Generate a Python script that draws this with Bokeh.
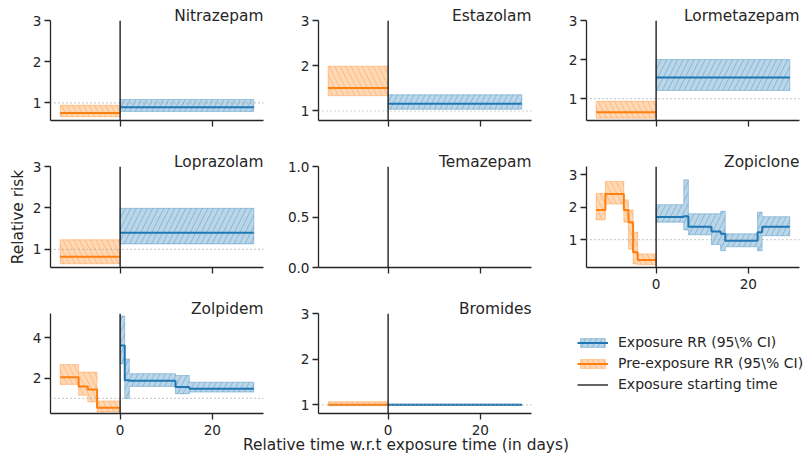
from bokeh.plotting import figure
from bokeh.layouts import column, row
from bokeh.models import (Span, FixedTicker, Legend, LegendItem, PrintfTickFormatter,
                          Range1d, Title)
from bokeh.core.properties import value
from bokeh.embed import file_html
from bokeh.resources import INLINE

# ---------------- data ----------------
drug_names = ["Nitrazepam", "Estazolam", "Lormetazepam",
              "Loprazolam", "Temazepam", "Zopiclone",
              "Zolpidem", "Bromides"]

# Nitrazepam
nitra_pre_edges = [-13, 0]
nitra_pre_rr = [0.75]
nitra_pre_lo = [0.66]
nitra_pre_hi = [0.94]
nitra_exp_edges = [0, 29]
nitra_exp_rr = [0.89]
nitra_exp_lo = [0.79]
nitra_exp_hi = [1.08]

# Estazolam
esta_pre_edges = [-13, 0]
esta_pre_rr = [1.51]
esta_pre_lo = [1.34]
esta_pre_hi = [1.99]
esta_exp_edges = [0, 29]
esta_exp_rr = [1.16]
esta_exp_lo = [1.04]
esta_exp_hi = [1.36]

# Lormetazepam
lorm_pre_edges = [-13, 0]
lorm_pre_rr = [0.65]
lorm_pre_lo = [0.50]
lorm_pre_hi = [0.93]
lorm_exp_edges = [0, 29]
lorm_exp_rr = [1.54]
lorm_exp_lo = [1.21]
lorm_exp_hi = [2.00]

# Loprazolam
lopr_pre_edges = [-13, 0]
lopr_pre_rr = [0.82]
lopr_pre_lo = [0.65]
lopr_pre_hi = [1.23]
lopr_exp_edges = [0, 29]
lopr_exp_rr = [1.40]
lopr_exp_lo = [1.13]
lopr_exp_hi = [1.99]

# Zopiclone
zopi_pre_edges = [-13, -11, -7, -6, -5, -4, 0]
zopi_pre_rr = [1.92, 2.41, 1.92, 1.54, 0.61, 0.37]
zopi_pre_lo = [1.61, 2.10, 1.54, 0.71, 0.25, 0.23]
zopi_pre_hi = [2.43, 2.80, 2.23, 1.92, 1.23, 0.56]
zopi_exp_edges = [0, 6, 7, 12, 14, 15, 22, 23, 29]
zopi_exp_rr = [1.70, 1.72, 1.40, 1.25, 1.18, 0.97, 1.23, 1.40]
zopi_exp_lo = [1.54, 1.30, 1.15, 0.85, 0.66, 0.78, 0.66, 1.12]
zopi_exp_hi = [2.08, 2.85, 1.80, 1.80, 1.88, 1.18, 1.85, 1.71]

# Zolpidem
zolp_pre_edges = [-13, -9, -7, -5, 0]
zolp_pre_rr = [2.05, 1.59, 1.44, 0.54]
zolp_pre_lo = [1.69, 1.15, 0.82, 0.33]
zolp_pre_hi = [2.67, 2.30, 2.30, 0.87]
zolp_exp_edges = [0, 1, 2, 12, 15, 29]
zolp_exp_rr = [3.61, 1.89, 1.87, 1.56, 1.48]
zolp_exp_lo = [2.71, 0.99, 1.59, 1.23, 1.31]
zolp_exp_hi = [5.08, 2.95, 2.22, 2.13, 1.80]

# Bromides
brom_pre_edges = [-13, 0]
brom_pre_rr = [1.00]
brom_pre_lo = [0.98]
brom_pre_hi = [1.07]
brom_exp_edges = [0, 29]
brom_exp_rr = [1.00]
brom_exp_lo = [0.985]
brom_exp_hi = [1.015]

x_ticks = [0, 20]
y_ticks_default = [1, 2, 3]
y_ticks_zolp = [2, 4]
y_ticks_tema = [0.0, 0.5, 1.0]

legend_labels = ["Exposure RR (95\\% CI)", "Pre-exposure RR (95\\% CI)", "Exposure starting time"]
y_axis_title = "Relative risk"
x_axis_title = "Relative time w.r.t exposure time (in days)"

# ---------------- style ----------------
BLUE = "#1f77b4"
ORANGE = "#ff7f0e"
FONT = "DejaVu Sans"
TXT = "#262626"
AX = "#262626"
TICK_FS = "13.6px"
TITLE_FS = "15.4px"
X_RANGE = (-15.1, 31.1)


def band_poly(edges, lo, hi):
    xs, ys = [], []
    for i in range(len(hi)):
        xs += [edges[i], edges[i + 1]]
        ys += [hi[i], hi[i]]
    for i in reversed(range(len(lo))):
        xs += [edges[i + 1], edges[i]]
        ys += [lo[i], lo[i]]
    return xs, ys


def add_series(p, edges, rr, lo, hi, color, hatch):
    xs, ys = band_poly(edges, lo, hi)
    band = p.patch(xs, ys, fill_color=color, fill_alpha=0.3, line_color=color,
                   line_alpha=0.35, line_width=1, hatch_pattern=hatch,
                   hatch_color=color, hatch_alpha=0.35, hatch_scale=11, hatch_weight=1)
    line = p.step(edges, rr + [rr[-1]], mode="after", line_color=color, line_width=2)
    return band, line


COL_BORDERS = [(50, 13), (42, 13), (42, 10)]
ROW_BORDERS = [(20, 100, 34), (12, 101, 34), (12, 100, 28)]


def make_fig(col, row_i, yr, yticks, show_xlab, name, legend_cell=False):
    bl, br = COL_BORDERS[col]
    bt, fh, bb = ROW_BORDERS[row_i]
    width = bl + 213 + br
    if legend_cell:
        bl, br = 30, 0
    p = figure(width=width, height=bt + fh + bb,
               x_range=Range1d(*X_RANGE), y_range=Range1d(*yr),
               output_backend="svg", toolbar_location=None,
               min_border_left=bl, min_border_right=br, min_border_top=bt,
               min_border_bottom=bb)
    p.outline_line_color = None
    p.grid.visible = False
    p.background_fill_alpha = 0
    p.border_fill_alpha = 0
    if legend_cell:
        p.axis.visible = False
        return p
    for ax in (p.xaxis[0], p.yaxis[0]):
        ax.axis_line_color = AX
        ax.axis_line_width = 1.3
        ax.major_tick_line_color = AX
        ax.major_tick_line_width = 1.3
        ax.major_tick_in = 0
        ax.major_tick_out = 6
        ax.minor_tick_line_color = None
        ax.major_label_text_font = FONT
        ax.major_label_text_font_size = TICK_FS
        ax.major_label_text_color = TXT
    p.xaxis.ticker = FixedTicker(ticks=x_ticks)
    p.yaxis.ticker = FixedTicker(ticks=yticks)
    p.yaxis.major_label_standoff = 3
    p.xaxis.major_label_standoff = 5
    if not show_xlab:
        p.xaxis.major_label_overrides = {t: "" for t in x_ticks}
    p.add_layout(Title(text=name, align="right", standoff=-9, text_font=FONT,
                       text_font_size=TITLE_FS, text_font_style="normal",
                       text_color=TXT), "above")
    return p


def decorate(p, with_hline=True):
    if with_hline:
        p.add_layout(Span(location=1, dimension="width", line_color="#a0a0a0",
                          line_width=1.2, line_dash="1 3"))
    p.add_layout(Span(location=0, dimension="height", line_color="#222222",
                      line_width=1.4))


# Row 1
p_nitra = make_fig(0, 0, (0.57, 3), y_ticks_default, False, drug_names[0])
add_series(p_nitra, nitra_pre_edges, nitra_pre_rr, nitra_pre_lo, nitra_pre_hi, ORANGE, "left_diagonal_line")
add_series(p_nitra, nitra_exp_edges, nitra_exp_rr, nitra_exp_lo, nitra_exp_hi, BLUE, "right_diagonal_line")
decorate(p_nitra)

p_esta = make_fig(1, 0, (0.79, 3), y_ticks_default, False, drug_names[1])
add_series(p_esta, esta_pre_edges, esta_pre_rr, esta_pre_lo, esta_pre_hi, ORANGE, "left_diagonal_line")
add_series(p_esta, esta_exp_edges, esta_exp_rr, esta_exp_lo, esta_exp_hi, BLUE, "right_diagonal_line")
decorate(p_esta)

p_lorm = make_fig(2, 0, (0.44, 3), y_ticks_default, False, drug_names[2])
add_series(p_lorm, lorm_pre_edges, lorm_pre_rr, lorm_pre_lo, lorm_pre_hi, ORANGE, "left_diagonal_line")
add_series(p_lorm, lorm_exp_edges, lorm_exp_rr, lorm_exp_lo, lorm_exp_hi, BLUE, "right_diagonal_line")
decorate(p_lorm)

# Row 2
p_lopr = make_fig(0, 1, (0.56, 3), y_ticks_default, False, drug_names[3])
add_series(p_lopr, lopr_pre_edges, lopr_pre_rr, lopr_pre_lo, lopr_pre_hi, ORANGE, "left_diagonal_line")
add_series(p_lopr, lopr_exp_edges, lopr_exp_rr, lopr_exp_lo, lopr_exp_hi, BLUE, "right_diagonal_line")
decorate(p_lopr)
p_lopr.yaxis.axis_label = y_axis_title
p_lopr.yaxis.axis_label_text_font = FONT
p_lopr.yaxis.axis_label_text_font_size = TITLE_FS
p_lopr.yaxis.axis_label_text_font_style = "normal"
p_lopr.yaxis.axis_label_text_color = TXT
p_lopr.yaxis.axis_label_standoff = 3

p_tema = make_fig(1, 1, (0.0, 1.0), y_ticks_tema, False, drug_names[4])
p_tema.yaxis.formatter = PrintfTickFormatter(format="%.1f")
decorate(p_tema, with_hline=False)

p_zopi = make_fig(2, 1, (0.14, 3.26), y_ticks_default, True, drug_names[5])
add_series(p_zopi, zopi_pre_edges, zopi_pre_rr, zopi_pre_lo, zopi_pre_hi, ORANGE, "left_diagonal_line")
add_series(p_zopi, zopi_exp_edges, zopi_exp_rr, zopi_exp_lo, zopi_exp_hi, BLUE, "right_diagonal_line")
decorate(p_zopi)

# Row 3
p_zolp = make_fig(0, 2, (0.25, 5.2), y_ticks_zolp, True, drug_names[6])
add_series(p_zolp, zolp_pre_edges, zolp_pre_rr, zolp_pre_lo, zolp_pre_hi, ORANGE, "left_diagonal_line")
add_series(p_zolp, zolp_exp_edges, zolp_exp_rr, zolp_exp_lo, zolp_exp_hi, BLUE, "right_diagonal_line")
decorate(p_zolp)

p_brom = make_fig(1, 2, (0.81, 3), y_ticks_default, True, drug_names[7])
add_series(p_brom, brom_pre_edges, brom_pre_rr, brom_pre_lo, brom_pre_hi, ORANGE, "left_diagonal_line")
add_series(p_brom, brom_exp_edges, brom_exp_rr, brom_exp_lo, brom_exp_hi, BLUE, "right_diagonal_line")
decorate(p_brom)

# Legend cell (dummy renderers placed outside its visible y range)
p_leg = make_fig(2, 2, (10, 11), y_ticks_default, False, "", legend_cell=True)
lb, ll = add_series(p_leg, [0, 1], [0], [0], [0], BLUE, "right_diagonal_line")
ob, ol = add_series(p_leg, [0, 1], [0], [0], [0], ORANGE, "left_diagonal_line")
kl = p_leg.line([0, 1], [0, 0], line_color="#222222", line_width=1.4)
legend = Legend(items=[LegendItem(label=legend_labels[0], renderers=[lb, ll]),
                       LegendItem(label=legend_labels[1], renderers=[ob, ol]),
                       LegendItem(label=legend_labels[2], renderers=[kl])],
                location=(3, 20), padding=0, margin=0, spacing=3,
                glyph_width=31, glyph_height=11, label_height=18, label_standoff=10,
                label_text_font=FONT, label_text_font_size="14px", label_text_color=TXT,
                border_line_alpha=0, background_fill_alpha=0)
p_leg.add_layout(legend, "center")

# Shared x-axis title in a transparent strip overlapping the bottom margin
footer = figure(width=809, height=30, x_range=Range1d(0, 809), y_range=Range1d(0, 30),
                output_backend="svg", toolbar_location=None,
                min_border=0, margin=(-13, 0, 0, 0))
footer.axis.visible = False
footer.grid.visible = False
footer.outline_line_color = None
footer.background_fill_alpha = 0
footer.border_fill_alpha = 0
footer.text(x=[405.5], y=[14], text=[x_axis_title], text_align="center",
            text_baseline="middle", text_font=value(FONT), text_font_size="15.4px",
            text_color=TXT)

layout = column(row(p_nitra, p_esta, p_lorm),
                row(p_lopr, p_tema, p_zopi),
                row(p_zolp, p_brom, p_leg),
                footer)

open("out.html", "w").write(file_html(layout, INLINE))
